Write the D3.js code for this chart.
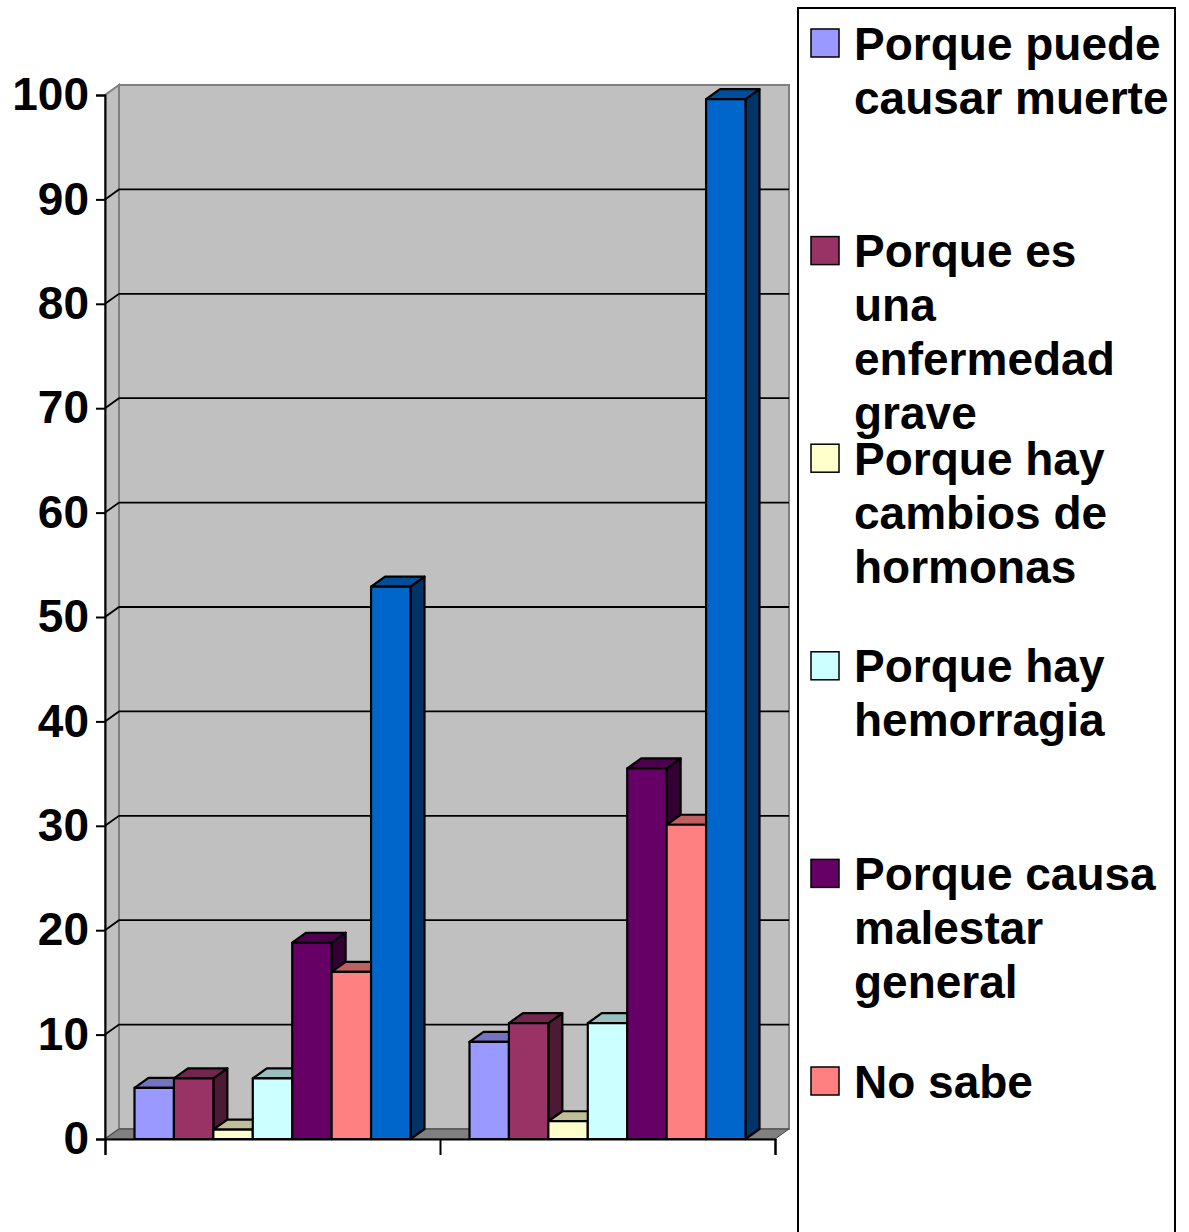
<html>
<head>
  <meta charset="utf-8">
  <script src="https://d3js.org/d3.v7.min.js"></script>
  <style>
    body { margin: 0; background: #fff; }
    text { font-family: "Liberation Sans", Arial, sans-serif; font-weight: bold; }
  </style>
</head>
<body>
<svg id="chart" width="1189" height="1232"></svg>
<script>
  // data
  var categories = ["Grupo 1", "Grupo 2"];
  var seriesNames = ["Porque puede causar muerte", "Porque es una enfermedad grave",
                     "Porque hay cambios de hormonas", "Porque hay hemorragia",
                     "Porque causa malestar general", "No sabe", "Total"];
  var seriesColors = ["#9999FF", "#993366", "#FFFFCC", "#CCFFFF", "#660066", "#FF8080", "#0066CC"];
  var group1 = [4.9, 5.8, 0.9, 5.8, 18.8, 16.0, 52.9];
  var group2 = [9.3, 11.1, 1.7, 11.1, 35.5, 30.1, 99.6];
  var yTicks = [0, 10, 20, 30, 40, 50, 60, 70, 80, 90, 100];
  // legend lines, wrapped as in the original (the 7th entry falls below the picture)
  var legendLines = [["Porque puede", "causar muerte"], ["Porque es", "una", "enfermedad", "grave"],
                     ["Porque hay", "cambios de", "hormonas"], ["Porque hay", "hemorragia"],
                     ["Porque causa", "malestar", "general"], ["No sabe"]];

  var values = [group1, group2];
  var svg = d3.select("#chart");
  var dx = 14, dy = 10;   // 3D depth offset

  var y = d3.scaleLinear().domain([0, 100]).range([1139, 95]);
  var x = d3.scaleBand().domain(categories).range([105, 775]).padding(0);
  var xs = d3.scaleBand().domain(seriesNames).range([29.5, 305.5]).padding(0);
  var x0 = 105, x1 = 775;

  // side wall
  svg.append("polygon")
    .attr("points", [[x0, y(0)], [x0 + dx, y(0) - dy], [x0 + dx, y(100) - dy], [x0, y(100)]].join(" "))
    .attr("fill", "#C0C0C0").attr("stroke", "#808080").attr("stroke-width", 2);
  // back wall
  svg.append("rect")
    .attr("x", x0 + dx).attr("y", y(100) - dy)
    .attr("width", x1 - x0).attr("height", y(0) - y(100))
    .attr("fill", "#C0C0C0").attr("stroke", "#808080").attr("stroke-width", 2);

  // gridlines
  var grid = svg.append("g");
  yTicks.filter(d => d > 0 && d < 100).forEach(function(t) {
    grid.append("polyline")
      .attr("points", [[x0, y(t)], [x0 + dx, y(t) - dy], [x1 + dx, y(t) - dy]].join(" "))
      .attr("fill", "none").attr("stroke", "#000").attr("stroke-width", 1.8);
  });

  // floor
  svg.append("polygon")
    .attr("points", [[x0, y(0)], [x0 + dx, y(0) - dy], [x1 + dx, y(0) - dy], [x1, y(0)]].join(" "))
    .attr("fill", "#808080").attr("stroke", "#404040").attr("stroke-width", 1);

  // bars
  var bars = svg.append("g").attr("stroke", "#000").attr("stroke-width", 2.2).attr("stroke-linejoin", "round");
  categories.forEach(function(c, ci) {
    seriesNames.forEach(function(s, si) {
      var v = values[ci][si];
      var bx = x(c) + xs(s), bw = xs.bandwidth();
      var top = y(v), base = y(0);
      var col = d3.color(seriesColors[si]);
      var g = bars.append("g");
      g.append("polygon")
        .attr("points", [[bx + bw, top], [bx + bw + dx, top - dy], [bx + bw + dx, base - dy], [bx + bw, base]].join(" "))
        .attr("fill", d3.rgb(col.r * 0.5, col.g * 0.5, col.b * 0.5));
      g.append("polygon")
        .attr("points", [[bx, top], [bx + dx, top - dy], [bx + bw + dx, top - dy], [bx + bw, top]].join(" "))
        .attr("fill", d3.rgb(col.r * 0.75, col.g * 0.75, col.b * 0.75));
      g.append("rect")
        .attr("x", bx).attr("y", top).attr("width", bw).attr("height", base - top)
        .attr("fill", col);
    });
  });

  // y axis
  var yAxis = svg.append("g").attr("transform", "translate(" + x0 + ",0)")
    .call(d3.axisLeft(y).tickValues(yTicks).tickSize(9).tickPadding(7));
  yAxis.select(".domain").attr("stroke", "#000").attr("stroke-width", 2);
  yAxis.selectAll(".tick line").attr("stroke", "#000").attr("stroke-width", 2);
  yAxis.selectAll("text").attr("fill", "#000").style("font-size", "46px")
    .style("font-family", "'Liberation Sans', Arial, sans-serif").style("font-weight", "bold");

  // x axis
  var xAxis = svg.append("g").attr("transform", "translate(0," + y(0) + ")")
    .call(d3.axisBottom(d3.scaleLinear().domain([0, categories.length]).range([x0, x1]))
      .tickValues(d3.range(categories.length + 1)).tickSize(16).tickFormat(""));
  xAxis.select(".domain").attr("stroke", "#000").attr("stroke-width", 2);
  xAxis.selectAll(".tick line").attr("stroke", "#000").attr("stroke-width", 2);

  // legend
  var legend = svg.append("g");
  legend.append("rect").attr("x", 798).attr("y", 8).attr("width", 377).attr("height", 1300)
    .attr("fill", "#fff").attr("stroke", "#000").attr("stroke-width", 2);
  var entryY = d3.scaleLinear().domain([0, 1]).range([43, 43 + 207.6]);
  legendLines.forEach(function(lines, i) {
    var cy = entryY(i);
    legend.append("rect").attr("x", 811).attr("y", cy - 14).attr("width", 28).attr("height", 28)
      .attr("fill", seriesColors[i]).attr("stroke", "#000").attr("stroke-width", 1.5);
    var t = legend.append("text").attr("x", 854).attr("y", cy + 16.5)
      .attr("font-size", 46).attr("fill", "#000");
    lines.forEach(function(line, li) {
      t.append("tspan").attr("x", 854).attr("dy", li === 0 ? 0 : 54).text(line);
    });
  });
</script>
</body>
</html>
